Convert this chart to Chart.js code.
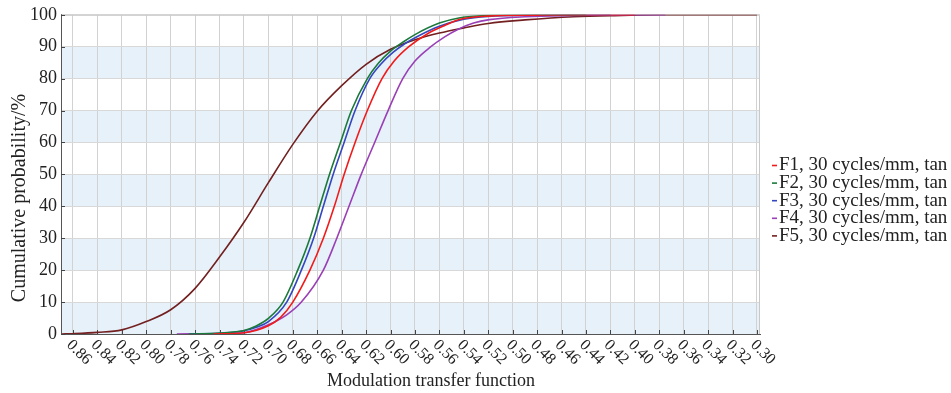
<!DOCTYPE html>
<html>
<head>
<meta charset="utf-8">
<script src="https://cdn.jsdelivr.net/npm/chart.js@4.4.1/dist/chart.umd.min.js"></script>
<style>
  html, body { margin: 0; padding: 0; background: #fff; }
</style>
</head>
<body>
<canvas id="mtfChart" width="951" height="393"></canvas>
<script>
// Eje X (MTF, invertido) y nombres de series
const xTicks = [0.86, 0.84, 0.82, 0.80, 0.78, 0.76, 0.74, 0.72, 0.70, 0.68, 0.66, 0.64, 0.62, 0.60,
                0.58, 0.56, 0.54, 0.52, 0.50, 0.48, 0.46, 0.44, 0.42, 0.40, 0.38, 0.36, 0.34, 0.32, 0.30];
const seriesNames = ['F1, 30 cycles/mm, tan', 'F2, 30 cycles/mm, tan', 'F3, 30 cycles/mm, tan',
                     'F4, 30 cycles/mm, tan', 'F5, 30 cycles/mm, tan'];
const seriesColors = ['#f01c1c', '#1b7a3b', '#3447bf', '#9a3fb6', '#732020'];

// F1
const f1Mtf  = [0.745, 0.72, 0.70, 0.69, 0.680, 0.666, 0.655, 0.646, 0.638, 0.629, 0.619, 0.607, 0.597, 0.585, 0.57, 0.556, 0.543, 0.52, 0.48, 0.45, 0.40];
const f1Prob = [0, 0.4, 2.6, 5.2, 10, 20, 30, 40, 50, 60, 70, 80, 85.5, 90, 94, 96.6, 98.6, 99.6, 99.9, 100, 100];
// F2
const f2Mtf  = [0.765, 0.74, 0.72, 0.71, 0.70, 0.688, 0.676, 0.666, 0.658, 0.650, 0.641, 0.632, 0.619, 0.61, 0.60, 0.59, 0.58, 0.56, 0.543, 0.52, 0.48, 0.44];
const f2Prob = [0, 0.3, 1.1, 2.5, 4.9, 10, 20, 30, 40, 50, 60, 70, 80, 84.8, 88.6, 91.4, 93.8, 97.4, 99.1, 99.8, 100, 100];
// F3
const f3Mtf  = [0.765, 0.74, 0.72, 0.71, 0.70, 0.685, 0.673, 0.663, 0.655, 0.647, 0.638, 0.629, 0.617, 0.608, 0.598, 0.588, 0.578, 0.56, 0.54, 0.52, 0.48, 0.45, 0.42];
const f3Prob = [0, 0.2, 1.0, 2.1, 3.9, 10, 20, 30, 40, 50, 60, 70, 80, 84.5, 88.2, 91, 93.2, 96.4, 98.6, 99.5, 99.9, 100, 100];
// F4
const f4Mtf  = [0.775, 0.74, 0.72, 0.70, 0.685, 0.673, 0.655, 0.644, 0.634, 0.624, 0.613, 0.602, 0.590, 0.58, 0.567, 0.556, 0.545, 0.532, 0.519, 0.49, 0.45, 0.40, 0.375];
const f4Prob = [0, 0.1, 0.4, 2.9, 6, 10, 20, 30, 40, 50, 60, 70, 80, 85.5, 90, 93, 95.4, 97.4, 98.5, 99.4, 99.8, 100, 100];
// F5
const f5Mtf  = [0.869, 0.86, 0.84, 0.82, 0.80, 0.78, 0.76, 0.74, 0.72, 0.70, 0.68, 0.66, 0.64, 0.62, 0.60, 0.58, 0.56, 0.54, 0.52, 0.49, 0.45, 0.41, 0.38, 0.30];
const f5Prob = [0, 0.1, 0.5, 1.3, 3.9, 7.6, 14.3, 24.1, 35, 47.4, 59.4, 69.8, 77.8, 84.5, 89.2, 92.2, 94.3, 95.9, 97.3, 98.4, 99.4, 99.8, 100, 100];

const serif = "'Liberation Serif', 'Times New Roman', serif";
const pairs = [[f1Mtf, f1Prob], [f2Mtf, f2Prob], [f3Mtf, f3Prob], [f4Mtf, f4Prob], [f5Mtf, f5Prob]];

const datasets = pairs.map(([xs, ys], i) => ({
  label: seriesNames[i],
  data: xs.map((x, j) => ({ x: x, y: ys[j] })),
  borderColor: seriesColors[i],
  borderWidth: 1.6,
  pointRadius: 0,
  fill: false,
  cubicInterpolationMode: 'monotone'
}));

// Bandas, marcas interiores, etiquetas giradas y leyenda
const decorPlugin = {
  id: 'decor',
  beforeDraw(chart) {
    const { ctx, chartArea: a, scales: { y } } = chart;
    ctx.save();
    ctx.fillStyle = '#e6f1fa';
    for (let v = 0; v < 100; v += 20) {
      const top = y.getPixelForValue(v + 10), bot = y.getPixelForValue(v);
      ctx.fillRect(a.left, top, a.right - a.left, bot - top);
    }
    ctx.restore();
  },
  beforeDatasetsDraw(chart) {
    const { ctx, chartArea: a, scales: { x, y } } = chart;
    ctx.save();
    ctx.strokeStyle = '#c8c8c8';
    ctx.lineWidth = 1;
    ctx.beginPath();
    ctx.moveTo(a.left, a.top + 0.5);
    ctx.lineTo(a.right - 0.5, a.top + 0.5);
    ctx.lineTo(a.right - 0.5, a.bottom);
    ctx.stroke();
    ctx.strokeStyle = '#444';
    ctx.beginPath();
    xTicks.forEach(v => {
      const px = Math.round(x.getPixelForValue(v)) + 0.5;
      ctx.moveTo(px, a.bottom);
      ctx.lineTo(px, a.bottom - 4);
    });
    for (let v = 0; v <= 100; v += 10) {
      const py = Math.round(y.getPixelForValue(v)) + 0.5;
      ctx.moveTo(a.left, py);
      ctx.lineTo(a.left + 4, py);
    }
    ctx.stroke();
    ctx.restore();
  },
  afterDraw(chart) {
    const { ctx, chartArea: a, scales: { x } } = chart;
    ctx.save();
    ctx.fillStyle = '#222';
    ctx.font = '16px ' + serif;
    ctx.textAlign = 'left';
    ctx.textBaseline = 'middle';
    xTicks.forEach(v => {
      const px = x.getPixelForValue(v);
      ctx.save();
      ctx.translate(px - 4, a.bottom + 8.5);
      ctx.rotate(Math.PI / 4);
      ctx.fillText(v.toFixed(2), 0, 0);
      ctx.restore();
    });

    ctx.font = '18px ' + serif;
    ctx.textAlign = 'center';
    ctx.fillText('Modulation transfer function', 431, 381);

    ctx.save();
    ctx.translate(20, 198);
    ctx.rotate(-Math.PI / 2);
    ctx.font = '20px ' + serif;
    ctx.fillText('Cumulative probability/%', 0, 0);
    ctx.restore();

    ctx.font = '19px ' + serif;
    ctx.textAlign = 'left';
    seriesNames.forEach((name, i) => {
      const ly = 165.5 + i * 17.6;
      ctx.strokeStyle = seriesColors[i];
      ctx.lineWidth = 1.6;
      ctx.beginPath();
      ctx.moveTo(772, ly);
      ctx.lineTo(777, ly);
      ctx.stroke();
      ctx.fillStyle = '#222';
      ctx.fillText(name, 779, ly);
    });
    ctx.restore();
  }
};

const config = {
  type: 'line',
  data: { datasets: datasets },
  options: {
    responsive: false,
    animation: false,
    layout: { padding: { top: 13, right: 191, left: 0, bottom: 0 } },
    plugins: {
      legend: { display: false },
      tooltip: { enabled: false }
    },
    scales: {
      x: {
        type: 'linear',
        reverse: true,
        min: 0.2975,
        max: 0.8698,
        afterBuildTicks: s => { s.ticks = xTicks.map(v => ({ value: v })); },
        afterFit: s => { s.height = 59; },
        ticks: { display: false },
        grid: { color: '#d2d2d2', drawTicks: false },
        border: { color: '#555' }
      },
      y: {
        min: 0,
        max: 100,
        afterFit: s => { s.width = 61; },
        ticks: { stepSize: 10, padding: 4, color: '#222', font: { family: serif, size: 18 } },
        grid: { color: '#d8d8d8', drawTicks: false },
        border: { color: '#555' }
      }
    }
  },
  plugins: [decorPlugin]
};

const mtfChart = new Chart(document.getElementById('mtfChart'), config);
</script>
</body>
</html>
